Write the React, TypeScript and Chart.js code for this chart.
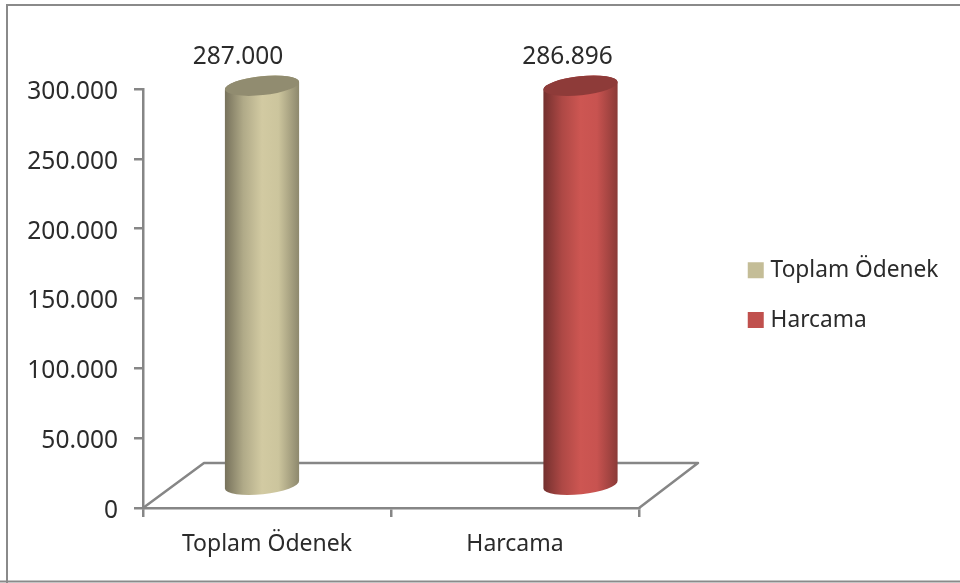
import React, { useEffect, useRef } from "react";
import { Chart, registerables } from "chart.js";

Chart.register(...registerables);

const categories = ["Toplam Ödenek", "Harcama"];
const seriesNames = ["Toplam Ödenek", "Harcama"];
const allocated = [287000, null];
const spent = [null, 286896];
const seriesColors = ["#C4BD97", "#C0504D"];
const AXIS = "#868686";
const TEXT = "#2b2b2b";
const FONT = "'Noto Sans'";

const fmt = (v: number) => String(Math.round(v)).replace(/\B(?=(\d{3})+$)/g, ".");

function shade(hex: string, f: number) {
  const n = parseInt(hex.slice(1), 16);
  const c = [(n >> 16) & 255, (n >> 8) & 255, n & 255].map((v) => Math.min(255, Math.round(v * f)));
  return `rgb(${c[0]},${c[1]},${c[2]})`;
}

const depthPlugin = {
  id: "depth",
  afterLayout(chart: any) {
    const l = chart.legend;
    const p = l.options.labels.padding;
    const dx = 752.25 - (l.left + p);
    l.left += dx;
    l.right += dx;
    const h = l.bottom - l.top;
    l.top = 259 - p;
    l.bottom = l.top + h;
  },
  beforeDraw(chart: any) {
    const { ctx, width, height } = chart;
    ctx.save();
    ctx.strokeStyle = "#8a8a8a";
    ctx.lineWidth = 2;
    ctx.beginPath();
    ctx.moveTo(width, 5);
    ctx.lineTo(7, 5);
    ctx.lineTo(7, height);
    ctx.moveTo(0, 581.5);
    ctx.lineTo(width, 581.5);
    ctx.stroke();
    ctx.restore();
  },
  beforeDatasetsDraw(chart: any) {
    const { ctx, chartArea: a } = chart;
    ctx.save();
    ctx.strokeStyle = AXIS;
    ctx.lineWidth = 2.5;
    ctx.lineJoin = "round";
    ctx.beginPath();
    ctx.moveTo(a.left, a.bottom);
    ctx.lineTo(a.left + 61, a.bottom - 45);
    ctx.lineTo(a.right + 59, a.bottom - 45);
    ctx.lineTo(a.right, a.bottom);
    ctx.stroke();
    ctx.restore();
  },
  beforeDatasetDraw(chart: any, args: any) {
    const { ctx } = chart;
    const i = args.index;
    const meta = chart.getDatasetMeta(i);
    const el = meta.data[i];
    const color = seriesColors[i];
    const shiftX = [-5, 65.5][i];
    const cx = el.x + shiftX;
    const top = el.y - 21.5;
    const bottom = el.base - 22;
    const rx = 37.3;
    const ry = 9.5;
    const rot = (-6 * Math.PI) / 180;
    const g = ctx.createLinearGradient(cx - rx, 0, cx + rx, 0);
    g.addColorStop(0, shade(color, 0.6));
    g.addColorStop(0.25, shade(color, 0.9));
    g.addColorStop(0.5, shade(color, 1.07));
    g.addColorStop(0.72, shade(color, 1.04));
    g.addColorStop(1, shade(color, 0.72));
    ctx.save();
    ctx.fillStyle = g;
    ctx.beginPath();
    ctx.ellipse(cx, bottom, rx, ry, rot, 0, Math.PI, false);
    ctx.ellipse(cx, top, rx, ry, rot, Math.PI, Math.PI * 2, false);
    ctx.closePath();
    ctx.fill();
    ctx.fillStyle = shade(color, 0.74);
    ctx.beginPath();
    ctx.ellipse(cx, top, rx, ry, rot, 0, Math.PI * 2);
    ctx.fill();
    ctx.restore();
    return false;
  },
  afterDatasetsDraw(chart: any) {
    const { ctx } = chart;
    ctx.save();
    ctx.fillStyle = TEXT;
    ctx.font = `24.5px ${FONT}`;
    ctx.textAlign = "center";
    ctx.textBaseline = "middle";
    chart.data.datasets.forEach((ds: any, i: number) => {
      const el = chart.getDatasetMeta(i).data[i];
      ctx.fillText(fmt(ds.data[i]), el.x + [-29, 52.5][i], el.y - 50);
    });
    ctx.restore();
  },
};

export default function App() {
  const ref = useRef<HTMLCanvasElement>(null);
  useEffect(() => {
    document.body.style.margin = "0";
    const chart = new Chart(ref.current!, {
      type: "bar",
      data: {
        labels: categories,
        datasets: [
          { label: seriesNames[0], data: allocated, backgroundColor: seriesColors[0], borderWidth: 0 },
          { label: seriesNames[1], data: spent, backgroundColor: seriesColors[1], borderWidth: 0 },
        ],
      },
      options: {
        animation: false,
        responsive: false,
        layout: { padding: { top: 89, right: 108, left: 0, bottom: 0 } },
        scales: {
          x: {
            stacked: true,
            border: { color: AXIS, width: 2.5 },
            grid: { drawOnChartArea: false, drawTicks: true, tickLength: 9, tickColor: AXIS, lineWidth: 2.5 },
            ticks: { color: TEXT, font: { family: FONT, size: 23 }, padding: 14, maxRotation: 0 },
            afterFit: (s: any) => { s.height = 75; },
          },
          y: {
            stacked: true,
            min: 0,
            max: 300000,
            border: { color: AXIS, width: 2.5 },
            grid: { drawOnChartArea: false, drawTicks: true, tickLength: 9, tickColor: AXIS, lineWidth: 2.5 },
            ticks: { stepSize: 50000, color: TEXT, font: { family: FONT, size: 24.5 }, padding: 16, labelOffset: 3, callback: (v: any) => fmt(v) },
            afterFit: (s: any) => { s.width = 143; },
          },
        },
        plugins: {
          legend: {
            position: "right",
            align: "start",
            labels: {
              color: TEXT,
              font: { family: FONT, size: 22.7 },
              boxWidth: 7,
              boxHeight: 16,
              usePointStyle: true,
              pointStyle: "rect",
              padding: 27,
            },
          },
          tooltip: { enabled: false },
        },
      },
      plugins: [depthPlugin],
    } as any);
    return () => chart.destroy();
  }, []);
  return <canvas ref={ref} width={960} height={583} style={{ display: "block" }} />;
}
